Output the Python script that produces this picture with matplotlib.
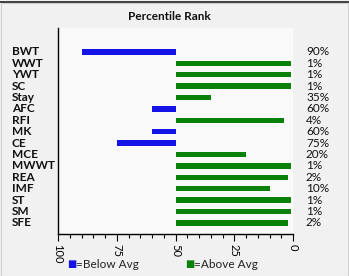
import matplotlib
matplotlib.use("Agg")
import matplotlib.pyplot as plt
import matplotlib.transforms as mtransforms
from matplotlib.patches import Rectangle
from matplotlib.ticker import MultipleLocator

plt.rcParams['font.family'] = ['Lato', 'DejaVu Sans']

categories = ["BWT", "WWT", "YWT", "SC", "Stay", "AFC", "RFI", "MK", "CE",
              "MCE", "MWWT", "REA", "IMF", "ST", "SM", "SFE"]
values = [90, 1, 1, 1, 35, 60, 4, 60, 75, 20, 1, 2, 10, 1, 1, 2]
pct_labels = ["90%", "1%", "1%", "1%", "35%", "60%", "4%", "60%", "75%",
              "20%", "1%", "2%", "10%", "1%", "1%", "2%"]
xticks = [100, 75, 50, 25, 0]
legend_labels = ["=Below Avg", "=Above Avg"]
title = "Percentile Rank"
avg = 50

blue = "#1414e6"
green = "#0a820a"

fig = plt.figure(figsize=(3.49, 2.76), dpi=100, facecolor="#f1f1f1")
ax = fig.add_axes([58/349, 42/276, 235/349, 206/276])
ax.set_facecolor("#f9f9f9")

ys = list(range(len(categories)))
for y, v in zip(ys, values):
    col = blue if v > avg else green
    ax.barh(y, v - avg, left=avg, height=0.48, color=col, edgecolor="none")

ax.set_xlim(100, 0)
ax.set_ylim(len(categories) - 1 + 0.97, -2.1)
ax.set_yticks([])
ax.set_xticks(xticks)
ax.set_xticklabels([str(t) for t in xticks], rotation=-90, fontsize=8)
ax.xaxis.set_minor_locator(MultipleLocator(5))
ax.tick_params(axis="x", which="major", length=5, width=0.8, pad=2, direction="out")
ax.tick_params(axis="x", which="minor", length=3, width=0.8, direction="out")
for s in ["top", "right"]:
    ax.spines[s].set_visible(False)
ax.spines["left"].set_linewidth(1.0)
ax.spines["bottom"].set_linewidth(1.0)

trans = mtransforms.blended_transform_factory(fig.transFigure, ax.transData)
for y, c, p in zip(ys, categories, pct_labels):
    ax.text(12/349, y, c, transform=trans, ha="left", va="center",
            fontsize=8.5, fontweight="bold", color="#111111")
    ax.text(306/349, y, p, transform=trans, ha="left", va="center",
            fontsize=8.5, color="#111111")

fig.text(169/349, 1 - 17/276, title, ha="center", va="center",
         fontsize=8.5, fontweight="bold", color="#111111")

# legend
fig.text(72/349, 1 - 264/276, "\u25A0", color=blue, ha="center", va="center", fontsize=7)
fig.text(76/349, 1 - 264/276, legend_labels[0], ha="left", va="center", fontsize=8.5, color="#222222")
fig.text(190/349, 1 - 264/276, "\u25A0", color=green, ha="center", va="center", fontsize=7)
fig.text(194/349, 1 - 264/276, legend_labels[1], ha="left", va="center", fontsize=8.5, color="#222222")

# border
fig.patches.append(Rectangle((1/349, 0), 1 - 2/349, 1 - 3/276, transform=fig.transFigure,
                             fill=False, edgecolor="#d0d0d0", linewidth=0.8))
fig.lines.append(plt.Line2D([0, 1], [1 - 2/276, 1 - 2/276], transform=fig.transFigure,
                            color="#222222", linewidth=1.2))

fig.savefig("out.png", dpi=100, facecolor=fig.get_facecolor())
